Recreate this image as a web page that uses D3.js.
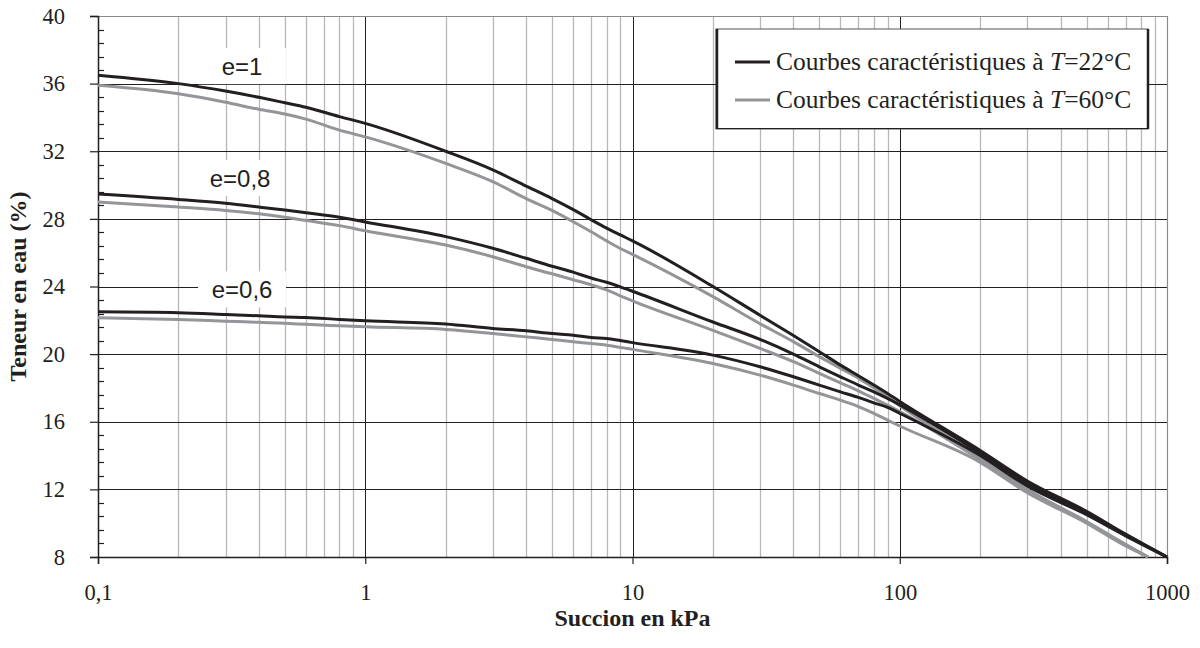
<!DOCTYPE html>
<html>
<head>
<meta charset="utf-8">
<script src="https://cdn.jsdelivr.net/npm/d3@7"></script>
<style>
  html, body { margin: 0; padding: 0; background: #fff; }
  svg { display: block; }
  .serif { font-family: "Liberation Serif", "Times New Roman", serif; }
  .sans { font-family: "Liberation Sans", Arial, sans-serif; }
</style>
</head>
<body>
<svg id="chart" width="1200" height="648"></svg>
<script>
// ---------- DATA ----------
const suction22 = [0.1,0.2,0.3,0.4,0.5,0.6,0.8,1,2,3,4,5,6,7,8,9,10,20,30,40,50,60,70,80,90,100,200,300,500,700,1000];
const suction60 = [0.1,0.2,0.3,0.4,0.5,0.6,0.8,1,2,3,4,5,6,7,8,9,10,20,30,40,50,60,70,80,90,100,200,300,500,700,850];

const w22_e1  = [36.5,36.0,35.56,35.19,34.87,34.6,34.05,33.65,32.0,30.9,29.94,29.2,28.55,27.95,27.45,27.05,26.7,24.0,22.3,21.1,20.14,19.35,18.72,18.17,17.67,17.2,14.3,12.5,10.7,9.35,8.0];
const w60_e1  = [35.9,35.4,34.9,34.48,34.2,33.9,33.25,32.85,31.28,30.2,29.2,28.5,27.83,27.24,26.7,26.25,25.9,23.4,21.8,20.74,19.85,19.16,18.57,18.0,17.47,16.95,13.9,12.0,10.1,8.75,8.0];
const w22_e08 = [29.47,29.15,28.92,28.7,28.52,28.36,28.1,27.82,26.95,26.26,25.67,25.2,24.85,24.5,24.25,23.98,23.72,21.9,20.87,20.0,19.25,18.66,18.17,17.77,17.38,17.0,14.15,12.35,10.6,9.3,8.0];
const w60_e08 = [29.0,28.7,28.5,28.3,28.1,27.9,27.6,27.3,26.45,25.76,25.17,24.75,24.4,24.1,23.8,23.45,23.15,21.4,20.34,19.55,18.86,18.3,17.83,17.38,16.98,16.6,13.75,11.9,10.05,8.7,8.0];
const w22_e06 = [22.5,22.45,22.35,22.27,22.2,22.17,22.05,21.97,21.78,21.52,21.38,21.22,21.12,20.98,20.92,20.8,20.68,19.94,19.25,18.66,18.17,17.77,17.44,17.12,16.85,16.5,14.0,12.2,10.5,9.25,8.0];
const w60_e06 = [22.15,22.05,21.95,21.88,21.82,21.76,21.68,21.62,21.46,21.22,21.02,20.87,20.73,20.63,20.53,20.4,20.28,19.45,18.76,18.17,17.67,17.28,16.9,16.5,16.1,15.75,13.6,11.8,10.0,8.65,8.0];

const xTickValues = [0.1, 1, 10, 100, 1000];
const xTickLabels = ["0,1", "1", "10", "100", "1000"];
const yTickValues = [8, 12, 16, 20, 24, 28, 32, 36, 40];

const curveLabels = ["e=1", "e=0,8", "e=0,6"];
const curveLabelX = [0.346, 0.34, 0.346];
const curveLabelY = [36.5, 29.88, 23.3];

const legendLabels = ["Courbes caractéristiques à ", "Courbes caractéristiques à "];
const legendTemps = ["=22°C", "=60°C"];

const xTitle = "Succion en kPa";
const yTitle = "Teneur en eau (%)";

// ---------- LAYOUT ----------
const DARK = "#231f20", GRAY = "#939598", GRID = "#b8b8b8";
const svg = d3.select("#chart");
const L = 98, T = 16, R = 1167, B = 557;

const x = d3.scaleLog().domain([0.1, 1000]).range([L, R]);
const y = d3.scaleLinear().domain([8, 40]).range([B, T]);

const g = svg.append("g");

// minor vertical gridlines
const minorX = [];
for (let d = 0.1; d < 1000; d *= 10) for (let k = 2; k <= 9; k++) minorX.push(d * k);
g.selectAll(".mx").data(minorX).enter().append("line")
  .attr("x1", d => Math.round(x(d)) + 0.5).attr("x2", d => Math.round(x(d)) + 0.5)
  .attr("y1", T).attr("y2", B)
  .attr("stroke", GRID).attr("stroke-width", 1.3);

// major vertical gridlines
g.selectAll(".Mx").data(xTickValues.slice(1, -1)).enter().append("line")
  .attr("x1", d => Math.round(x(d)) + 0.5).attr("x2", d => Math.round(x(d)) + 0.5)
  .attr("y1", T).attr("y2", B)
  .attr("stroke", DARK).attr("stroke-width", 1);

// major horizontal gridlines
g.selectAll(".My").data(yTickValues.slice(1, -1)).enter().append("line")
  .attr("x1", L).attr("x2", R)
  .attr("y1", d => Math.round(y(d)) + 0.5).attr("y2", d => Math.round(y(d)) + 0.5)
  .attr("stroke", DARK).attr("stroke-width", 1);

// plot border: top & right gray
g.append("line").attr("x1", L).attr("x2", R).attr("y1", T + 0.5).attr("y2", T + 0.5).attr("stroke", "#8a8a8a").attr("stroke-width", 1.2);
g.append("line").attr("x1", R + 0.5).attr("x2", R + 0.5).attr("y1", T).attr("y2", B).attr("stroke", "#8a8a8a").attr("stroke-width", 1.2);

// ---------- AXES ----------
const yAxis = d3.axisLeft(y).tickValues(yTickValues).tickSize(8).tickPadding(8).tickFormat(d3.format("d"));
const gy = svg.append("g").attr("transform", `translate(${L},0)`).call(yAxis);
gy.attr("font-family", null).attr("font-size", null);
gy.select(".domain").attr("stroke", DARK).attr("stroke-width", 1.5);
gy.selectAll(".tick line").attr("stroke", DARK).attr("stroke-width", 1.2);
gy.selectAll(".tick text").attr("class", "serif")
  .style("font-size", "22.5px").attr("fill", DARK).attr("x", -33);

// minor y ticks (inside)
const minorY = d3.range(8, 40.001, 0.8).filter(v => Math.abs(v / 4 - Math.round(v / 4)) > 1e-6);
svg.selectAll(".myt").data(minorY).enter().append("line")
  .attr("x1", L).attr("x2", L + 6)
  .attr("y1", d => Math.round(y(d)) + 0.5).attr("y2", d => Math.round(y(d)) + 0.5)
  .attr("stroke", DARK).attr("stroke-width", 1.2);

const xAxis = d3.axisBottom(x).tickValues(xTickValues).tickSize(7).tickPadding(20)
  .tickFormat((d, i) => xTickLabels[i]);
const gx = svg.append("g").attr("transform", `translate(0,${B})`).call(xAxis);
gx.attr("font-family", null).attr("font-size", null);
gx.select(".domain").attr("stroke", DARK).attr("stroke-width", 1.5);
gx.selectAll(".tick line").attr("stroke", DARK).attr("stroke-width", 1.2);
gx.selectAll(".tick text").attr("class", "serif")
  .style("font-size", "22.5px").attr("fill", DARK);

// ---------- CURVES ----------
const series = [
  { xs: suction60, ys: w60_e1, color: GRAY },
  { xs: suction60, ys: w60_e08, color: GRAY },
  { xs: suction60, ys: w60_e06, color: GRAY },
  { xs: suction22, ys: w22_e1, color: DARK },
  { xs: suction22, ys: w22_e08, color: DARK },
  { xs: suction22, ys: w22_e06, color: DARK }
];
const line = d3.line().x(d => x(d[0])).y(d => y(d[1])).curve(d3.curveMonotoneX);
svg.append("g").selectAll("path").data(series).enter().append("path")
  .attr("d", s => line(s.xs.map((v, i) => [v, s.ys[i]])))
  .attr("fill", "none").attr("stroke", s => s.color).attr("stroke-width", 3)
  .attr("stroke-linejoin", "round");

// ---------- CURVE LABELS ----------
const lab = svg.append("g").selectAll("g").data(curveLabels).enter().append("g")
  .attr("transform", (d, i) => `translate(${x(curveLabelX[i])},${y(curveLabelY[i])})`);
lab.append("rect").attr("x", -44).attr("y", -27).attr("width", 88).attr("height", 36).attr("fill", "#fff");
lab.append("text").text(d => d).attr("text-anchor", "middle").attr("class", "sans")
  .style("font-size", "24px").attr("fill", DARK);

// ---------- LEGEND ----------
const lg = svg.append("g");
lg.append("rect").attr("x", 716).attr("y", 29).attr("width", 432).attr("height", 100)
  .attr("fill", "#fff").attr("stroke", "#555").attr("stroke-width", 1);
lg.append("line").attr("x1", 717).attr("x2", 717).attr("y1", 29).attr("y2", 129).attr("stroke", DARK).attr("stroke-width", 2.5);
lg.append("line").attr("x1", 1148).attr("x2", 1148).attr("y1", 29).attr("y2", 129).attr("stroke", DARK).attr("stroke-width", 2.5);
lg.append("line").attr("x1", 716).attr("x2", 1149).attr("y1", 128.5).attr("y2", 128.5).attr("stroke", DARK).attr("stroke-width", 1.2);
const legColors = [DARK, GRAY];
const items = lg.selectAll(".it").data(legendLabels).enter().append("g")
  .attr("transform", (d, i) => `translate(735,${62 + i * 38})`);
items.append("line").attr("x1", 0).attr("x2", 35).attr("y1", 0).attr("y2", 0)
  .attr("stroke", (d, i) => legColors[i]).attr("stroke-width", 3);
const lt = items.append("text").attr("x", 41).attr("y", 8).attr("class", "serif")
  .style("font-size", "25.5px").attr("fill", DARK);
lt.append("tspan").text(d => d);
lt.append("tspan").attr("font-style", "italic").text("T");
lt.append("tspan").text((d, i) => legendTemps[i]);

// ---------- TITLES ----------
svg.append("text").text(xTitle).attr("x", (L + R) / 2).attr("y", 626).attr("text-anchor", "middle")
  .attr("class", "serif").attr("font-weight", "bold")
  .style("font-size", "24px").attr("fill", DARK);
svg.append("text").text(yTitle).attr("transform", `translate(26,${(T + B) / 2}) rotate(-90)`).attr("text-anchor", "middle")
  .attr("class", "serif").attr("font-weight", "bold")
  .style("font-size", "24px").attr("fill", DARK);
</script>
</body>
</html>
